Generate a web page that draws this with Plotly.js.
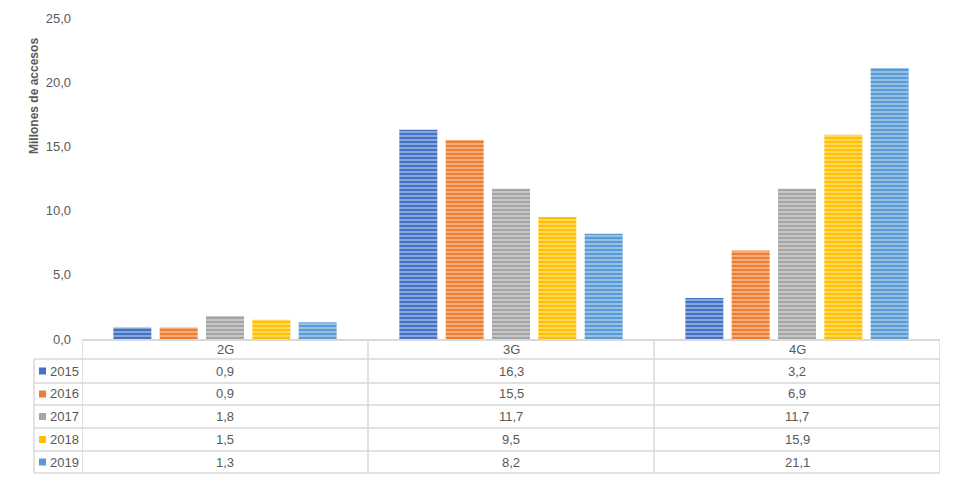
<!DOCTYPE html>
<html><head><meta charset="utf-8">
<script src="https://cdn.plot.ly/plotly-3.0.1.min.js"></script>
<style>body{margin:0;background:#fff}#c{width:960px;height:483px}</style>
</head><body><div id="c"></div>
<script>
const categories = ["2G", "3G", "4G"];
const years = ["2015", "2016", "2017", "2018", "2019"];
const v2015 = [0.9, 16.3, 3.2];
const v2016 = [0.9, 15.5, 6.9];
const v2017 = [1.8, 11.7, 11.7];
const v2018 = [1.5, 9.5, 15.9];
const v2019 = [1.3, 8.2, 21.1];
const series = [v2015, v2016, v2017, v2018, v2019];
const colors = ["#4472C4", "#ED7D31", "#A5A5A5", "#FFC000", "#5B9BD5"];

const W = 960, H = 483, L = 82, R = 20, T = 18, B = 144;
const plotH = H - T - B;
const py = p => (H - B - p) / plotH;       // pixel y -> paper y
const px = p => (p - L) / (W - L - R);     // pixel x -> paper x
const fnt = "Liberation Sans Narrow, Arial Narrow, Liberation Sans, Arial, sans-serif";
const grey = "#595959", lineC = "#d9d9d9";

const traces = series.map((vals, i) => ({
  type: "bar", x: categories, y: vals, name: years[i],
  marker: {color: colors[i], line: {width: 0},
    pattern: {shape: "-", size: 4, solidity: 0.45, fgcolor: "#ffffff", fgopacity: 0.4, bgcolor: colors[i]}},
  hoverinfo: "x+y"
}));

const rowTops = [359, 383, 405, 428, 451];
const rowBot = 473;
const shapes = [];
const annotations = [];
[...rowTops, rowBot].forEach(p => shapes.push({type: "line", xref: "paper", yref: "paper",
  x0: px(34), x1: 1, y0: py(p), y1: py(p), line: {color: lineC, width: 1.5}}));
shapes.push({type: "line", xref: "paper", yref: "paper", x0: px(34), x1: px(34), y0: py(359), y1: py(rowBot), line: {color: lineC, width: 1.5}});
[-0.5, 0.5, 1.5, 2.5].forEach(c => shapes.push({type: "line", xref: "x", yref: "paper",
  x0: c, x1: c, y0: 0, y1: py(rowBot), line: {color: lineC, width: 1.5}}));
const tfont = {family: fnt, size: 13, color: grey};
categories.forEach(c => annotations.push({xref: "x", yref: "paper", x: c, y: py(349.5),
  xanchor: "center", yanchor: "middle", text: c, showarrow: false, font: tfont}));
years.forEach((yr, i) => {
  const mid = (rowTops[i] + (rowTops[i + 1] || rowBot)) / 2;
  shapes.push({type: "rect", xref: "paper", yref: "paper", x0: px(39), x1: px(46),
    y0: py(mid - 3.5), y1: py(mid + 3.5), fillcolor: colors[i], line: {width: 0}});
  annotations.push({xref: "paper", yref: "paper", x: px(48), y: py(mid), xanchor: "left", yanchor: "middle",
    text: yr, showarrow: false, font: tfont});
  categories.forEach((c, j) => annotations.push({xref: "x", yref: "paper", x: c, y: py(mid),
    xanchor: "center", yanchor: "middle",
    text: series[i][j].toFixed(1).replace(".", ","), showarrow: false, font: tfont}));
});
annotations.push({xref: "paper", yref: "paper", x: px(34), y: py(96), textangle: -90,
  xanchor: "center", yanchor: "middle",
  text: "<b>Millones de accesos</b>", showarrow: false, font: {family: fnt, size: 12, color: grey}});

const layout = {
  width: W, height: H, margin: {l: L, r: R, t: T, b: B},
  paper_bgcolor: "#fff", plot_bgcolor: "#fff",
  separators: ", ",
  barmode: "group", bargap: 0.19, bargroupgap: 0.18,
  showlegend: false,
  xaxis: {type: "category", showticklabels: false, showgrid: false, zeroline: false,
    showline: true, linecolor: lineC, linewidth: 1.5, ticks: "", range: [-0.5, 2.5]},
  yaxis: {range: [0, 25], dtick: 5, tickformat: ".1f", showgrid: false, zeroline: false,
    showline: false, ticks: "", ticklabelstandoff: 10,
    tickfont: tfont},
  shapes, annotations
};
Plotly.newPlot("c", traces, layout, {displayModeBar: false, staticPlot: true});
</script></body></html>
